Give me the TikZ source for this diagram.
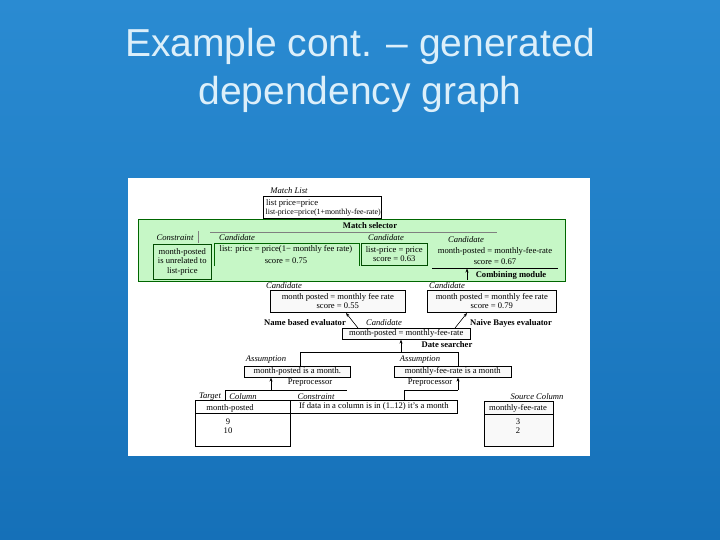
\documentclass[tikz,border=0pt]{standalone}
\usepackage{fontspec}
\setmainfont{Liberation Serif}
\newfontfamily\titlefont{Liberation Sans}
\usetikzlibrary{arrows.meta}
\definecolor{bgtop}{HTML}{2A8BD2}
\definecolor{bgbot}{HTML}{1570B8}
\definecolor{titlec}{HTML}{DCEFFA}
\definecolor{greenfill}{HTML}{C6F7C6}
\tikzset{
 box/.style={draw=black, line width=0.6pt, inner sep=1pt, align=center, font=\fontsize{8.6}{9.4}\selectfont},
 gbox/.style={box, draw=black!70!green, fill=greenfill},
 lbl/.style={font=\fontsize{8.6}{9.4}\selectfont\itshape, inner sep=0pt},
 txt/.style={font=\fontsize{8.6}{9.4}\selectfont, inner sep=0pt, align=center},
 bld/.style={font=\fontsize{8.6}{9.4}\selectfont\bfseries, inner sep=0pt},
 ln/.style={line width=0.6pt},
 arr/.style={line width=0.6pt, -{Stealth[length=4pt,width=3pt]}}
}
\begin{document}
\begin{tikzpicture}[x=1pt,y=-1pt]
\useasboundingbox (0,0) rectangle (720,540);
\shade[top color=bgtop, bottom color=bgbot] (0,0) rectangle (720,540);
\node[titlec, font=\titlefont\fontsize{39}{44}\selectfont] (t1) at (360,46) {Example cont. – generated};
\node[titlec, font=\titlefont\fontsize{39}{44}\selectfont] (t2) at (360,94) {dependency graph};
\fill[white] (128,178) rectangle (590,456);
% Match list
\node[lbl] (mll) at (289,191) {Match List};
\node[box, minimum width=118, minimum height=22, anchor=north west] (ml) at (263,196) {};
\node[txt, anchor=west] (ml1) at (266,203) {list price=price};
\node[txt, anchor=west, font=\fontsize{7.9}{9}\selectfont] (ml2) at (265.5,213) {list-price=price(1+monthly-fee-rate)};
% green area
\filldraw[fill=greenfill, draw=black!60!green, line width=0.8pt] (138,219) rectangle (565,281);
\node[bld] (ms) at (370,226) {Match selector};
\draw[ln, black!50] (210,232) -- (497,232);
\node[lbl] (cl) at (175,238) {Constraint};
\draw[ln, black!50] (198,231) -- (198,243);
\node[gbox, minimum width=58, minimum height=35, anchor=north west, inner sep=0.5pt] (c1) at (153,244) {month-posted\\is unrelated to\\list-price};
\node[lbl] (ca1) at (237,238) {Candidate};
\draw[ln, black!60!green] (214,266) -- (214,243) -- (359,243) -- (359,266);
\node[txt] (ca1a) at (286,249) {list: price = price(1− monthly fee rate)};
\node[txt] (ca1b) at (286,261) {score = 0.75};
\node[lbl] (ca2) at (386,238) {Candidate};
\node[gbox, minimum width=66, minimum height=22, anchor=north west, inner sep=0.5pt] (c2) at (361,243) {list-price = price\\score = 0.63};
\node[lbl] (ca3) at (466,240) {Candidate};
\node[txt] (ca3a) at (495,251) {month-posted = monthly-fee-rate};
\node[txt] (ca3b) at (495,262) {score = 0.67};
\draw[ln] (432,268) -- (558,268);
\coordinate (cm) at (467,280);
\draw[arr] (cm) -- (467,268.5);
\node[bld] (cmt) at (511,275) {Combining module};
% evaluators
\node[lbl] (cn) at (284,286) {Candidate};
\node[box, fill=gray!5, minimum width=135, minimum height=22, anchor=north west, inner sep=0.5pt] (nb) at (270,290) {month posted = monthly fee rate\\score = 0.55};
\node[lbl] (cb) at (447,286) {Candidate};
\node[box, fill=gray!5, minimum width=129, minimum height=22, anchor=north west, inner sep=0.5pt] (bb) at (427,290) {month posted = monthly fee rate\\score = 0.79};
\node[bld] (nbe) at (305,323) {Name based evaluator};
\node[bld] (nbye) at (511,323) {Naive Bayes evaluator};
\node[lbl] (cd) at (384,323) {Candidate};
\node[box, fill=gray!5, minimum width=128, minimum height=11, anchor=north west, inner sep=0.5pt] (db) at (342,328) {month-posted = monthly-fee-rate};
\draw[arr] (358,328) -- (346,313);
\draw[arr] (455,328) -- (467,313);
\coordinate (ds) at (401,352);
\draw[arr] (ds) -- (db.south -| ds);
\node[bld] (dst) at (447,345) {Date searcher};
% assumptions
\node[lbl] (as1) at (266,360) {Assumption};
\node[box, fill=gray!5, minimum width=106, minimum height=11, anchor=north west, inner sep=0.5pt] (a1) at (244,366) {month-posted is a  month.};
\node[lbl] (as2) at (420,360) {Assumption};
\node[box, fill=gray!5, minimum width=117, minimum height=11, anchor=north west, inner sep=0.5pt] (a2) at (394,366) {monthly-fee-rate is a month};
\draw[ln] (a1.north -| 300,0) -- (300,352) -- (458,352) -- (a2.north -| 458,0);
\coordinate (p1) at (271,390);
\coordinate (p2) at (458,390);
\draw[arr] (p1) -- (a1.south -| p1);
\draw[arr] (p2) -- (a2.south -| p2);
\node[txt] (pp1) at (310,383) {Preprocessor};
\node[txt] (pp2) at (430,383) {Preprocessor};
\draw[ln] (225,400) -- (225,390) -- (347,390);
\draw[ln] (404,400) -- (404,390) -- (p2);
% columns
\node[lbl] (tcl) at (210,397) {Target};
\node[lbl] (tcl2) at (243,397) {Column};
\node[box, minimum width=95, minimum height=46, anchor=north west] (tc) at (195,400) {};
\draw[ln] (195,413) -- (290,413);
\node[txt] (tch) at (230,408) {month-posted};
\node[txt] (tv) at (228,426) {9\\10};
\node[lbl] (csl) at (316,397) {Constraint};
\node[box, minimum width=167, minimum height=13, anchor=north west, inner sep=0.5pt] (cs) at (290,400) {If data in a column is in (1..12) it's a month};
\node[lbl] (scl) at (537,397) {Source Column};
\node[box, fill=gray!5, minimum width=69, minimum height=45, anchor=north west] (sc) at (484,401) {};
\draw[ln] (484,414) -- (553,414);
\node[txt] (sch) at (518,408) {monthly-fee-rate};
\node[txt] (sv) at (518,426) {3\\2};
\end{tikzpicture}
\end{document}
